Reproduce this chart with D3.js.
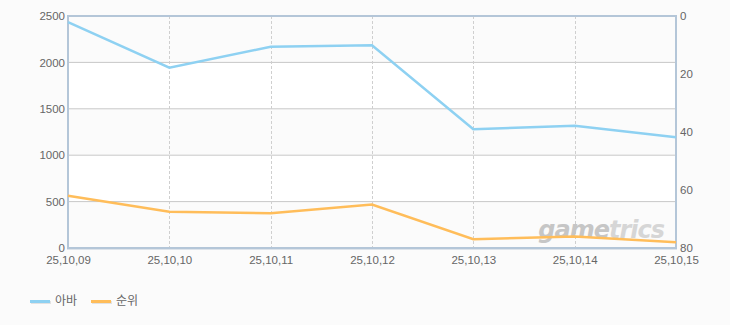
<!DOCTYPE html>
<html>
<head>
<meta charset="utf-8">
<script src="https://cdn.jsdelivr.net/npm/d3@7"></script>
<style>
  body { margin: 0; background: #fbfbfb; }
  svg { display: block; font-family: "Liberation Sans", "Noto Sans CJK KR", sans-serif; }
</style>
</head>
<body>
<div id="chart"></div>
<script>
const dates = ["25,10,09", "25,10,10", "25,10,11", "25,10,12", "25,10,13", "25,10,14", "25,10,15"];
const avaValues = [2435, 1943, 2169, 2184, 1279, 1318, 1193];
const rankValues = [62, 67.5, 68, 65, 77, 76, 78];
const leftTicks = [0, 500, 1000, 1500, 2000, 2500];
const rightTicks = [0, 20, 40, 60, 80];
const seriesNames = ["아바", "순위"];
const seriesColors = ["#8ed1f2", "#ffbd5a"];

const width = 730, height = 325;
const margin = { top: 16, right: 54, bottom: 77, left: 68 };
const w = width - margin.left - margin.right;
const h = height - margin.top - margin.bottom;

const svg = d3.select("#chart").append("svg")
  .attr("width", width)
  .attr("height", height);

const x = d3.scalePoint().domain(dates).range([0, w]);
const yLeft = d3.scaleLinear().domain([0, 2500]).range([h, 0]);
const yRight = d3.scaleLinear().domain([0, 80]).range([0, h]);

const g = svg.append("g")
  .attr("transform", `translate(${margin.left},${margin.top})`);

// alternating bands
g.selectAll("rect.band")
  .data(d3.pairs(leftTicks))
  .enter().append("rect")
  .attr("x", 0)
  .attr("width", w)
  .attr("y", d => yLeft(d[1]))
  .attr("height", d => yLeft(d[0]) - yLeft(d[1]))
  .attr("fill", (d, i) => i % 2 === 0 ? "#fbfbfb" : "#ffffff");

// horizontal grid
g.append("g")
  .selectAll("line")
  .data(leftTicks.slice(1, -1))
  .enter().append("line")
  .attr("x1", 0).attr("x2", w)
  .attr("y1", d => yLeft(d)).attr("y2", d => yLeft(d))
  .attr("stroke", "#c8c8c8");

// vertical dashed grid
g.append("g")
  .selectAll("line")
  .data(dates.slice(1, -1))
  .enter().append("line")
  .attr("x1", d => Math.round(x(d)) + 0.5).attr("x2", d => Math.round(x(d)) + 0.5)
  .attr("y1", 0).attr("y2", h)
  .attr("stroke", "#cfcfcf")
  .attr("stroke-dasharray", "3,2");

// watermark
const wm = g.append("text")
  .attr("x", w - 12)
  .attr("y", h - 10)
  .attr("text-anchor", "end")
  .attr("font-size", 24)
  .attr("font-weight", "bold")
  .attr("font-style", "italic")
  .attr("letter-spacing", -1)
  .attr("font-family", "'DejaVu Sans', sans-serif")
  .attr("fill", "#c6c6c6");
wm.append("tspan").text("game");
wm.append("tspan").attr("fill", "#d6d6d6").text("trics");

// frame
const frame = "#b4c6d8";
g.append("line").attr("x1", -1).attr("x2", w + 1).attr("y1", 0).attr("y2", 0)
  .attr("stroke", frame).attr("stroke-width", 2);
g.append("line").attr("x1", -1).attr("x2", w + 1).attr("y1", h + 1).attr("y2", h + 1)
  .attr("stroke", "#dde3ea").attr("stroke-width", 2);
g.append("line").attr("x1", -1).attr("x2", w + 1).attr("y1", h).attr("y2", h)
  .attr("stroke", frame).attr("stroke-width", 2);
g.append("line").attr("x1", 0).attr("x2", 0).attr("y1", 0).attr("y2", h)
  .attr("stroke", frame).attr("stroke-width", 2);
g.append("line").attr("x1", w).attr("x2", w).attr("y1", 0).attr("y2", h)
  .attr("stroke", frame).attr("stroke-width", 2);

// lines
const lineLeft = d3.line().x((d, i) => x(dates[i])).y(d => yLeft(d));
const lineRight = d3.line().x((d, i) => x(dates[i])).y(d => yRight(d));

g.append("path").datum(rankValues)
  .attr("d", lineRight)
  .attr("fill", "none")
  .attr("stroke", seriesColors[1])
  .attr("stroke-width", 2.5);

g.append("path").datum(avaValues)
  .attr("d", lineLeft)
  .attr("fill", "none")
  .attr("stroke", seriesColors[0])
  .attr("stroke-width", 2.5);

// axes
const axisLeft = g.append("g")
  .call(d3.axisLeft(yLeft).tickValues(leftTicks).tickFormat(d3.format("d")).tickSize(0).tickPadding(3));
const axisRight = g.append("g")
  .attr("transform", `translate(${w},0)`)
  .call(d3.axisRight(yRight).tickValues(rightTicks).tickFormat(d3.format("d")).tickSize(0).tickPadding(4));
const axisBottom = g.append("g")
  .attr("transform", `translate(0,${h})`)
  .call(d3.axisBottom(x).tickSize(0).tickPadding(8));

[axisLeft, axisRight, axisBottom].forEach(a => {
  a.select(".domain").remove();
  a.selectAll("text").attr("fill", "#666").attr("font-size", 11.5)
    .attr("font-family", "'Liberation Sans', sans-serif");
});

// legend
const legend = svg.append("g").attr("transform", "translate(30,301)");
const item = legend.selectAll("g")
  .data(seriesNames)
  .enter().append("g")
  .attr("transform", (d, i) => `translate(${i * 61},0)`);
item.append("rect")
  .attr("x", 1).attr("y", 0).attr("width", 20).attr("height", 3)
  .attr("fill", "#e2e2e2");
item.append("rect")
  .attr("x", 0).attr("y", -1).attr("width", 20).attr("height", 3)
  .attr("fill", (d, i) => seriesColors[i]);
item.append("text")
  .attr("x", 25).attr("y", 4)
  .attr("font-size", 12)
  .attr("fill", "#666")
  .attr("font-family", "'Noto Sans CJK KR', sans-serif")
  .text(d => d);
</script>
</body>
</html>
